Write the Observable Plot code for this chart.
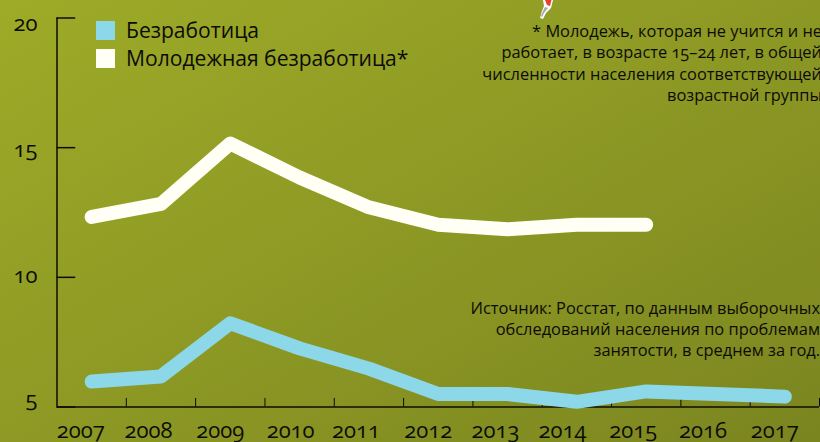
<!DOCTYPE html>
<html><head><meta charset="utf-8">
<script src="https://cdn.jsdelivr.net/npm/d3@7"></script>
<script src="https://cdn.jsdelivr.net/npm/@observablehq/plot@0.6"></script>
<style>
html,body{margin:0;padding:0;width:820px;height:442px;overflow:hidden;background:#8a9624}
#wrap{position:relative;width:820px;height:442px;overflow:hidden;font-family:"Open Sans",sans-serif;color:#0c0c06;font-feature-settings:"onum" 1;font-variant-numeric:oldstyle-nums}
#wrap svg.chart{display:block}
.sw{position:absolute;left:96px;width:19px;height:19px}
.lg{position:absolute;left:126px;font-size:21.1px;line-height:28px;white-space:nowrap}
.note{position:absolute;right:-2px;text-align:right;font-size:16.4px;line-height:21.3px;white-space:nowrap}
</style></head><body><div id="wrap"></div>
<script>
const years=[2007,2008,2009,2010,2011,2012,2013,2014,2015,2016,2017];
const unemployment=[5.98,6.18,8.23,7.26,6.48,5.5,5.5,5.2,5.6,5.5,5.4];
const youthYears=[2007,2008,2009,2010,2011,2012,2013,2014,2015];
const youth=[12.33,12.83,15.16,13.85,12.7,12.03,11.85,12.03,12.03];
const yTicks=[5,10,15,20];
const yearBounds=[2007.5,2008.5,2009.5,2010.5,2011.5,2012.5,2013.5,2014.5,2015.5,2016.5,2017.5];
const labelNudge=[-11,-12.5,-10,-9,-13,-10,-12,-14.5,-13,-12.5,-10];
const yLabelNudge=[-7,-1,2,5.5];
const cyan="#8cd8e8", cream="#fffff5", ink="#0c0c06";
const fam='"Open Sans",sans-serif';
const chart=Plot.plot({
  width:820,height:442,
  marginLeft:56.5,marginRight:1,marginTop:17.5,marginBottom:35.5,
  x:{type:"linear",domain:[2006.5,2017.5],axis:null},
  y:{domain:[5,20],axis:null},
  style:{background:"linear-gradient(150deg,#9dab28 0%,#8d9924 50%,#7b8520 100%)",fontFamily:fam},
  marks:[
    Plot.ruleX([2006.5],{y1:5,y2:20,stroke:ink,strokeWidth:1.5}),
    Plot.ruleY([5],{x1:2006.5,x2:2017.5,stroke:ink,strokeWidth:1.5}),
    Plot.ruleY(yTicks,{x1:2006.5,x2:2006.77,stroke:ink,strokeWidth:1.5}),
    Plot.ruleX(yearBounds,{y1:5,y2:5.33,stroke:ink,strokeWidth:1}),
    Plot.line(years.map((d,i)=>({x:d,y:unemployment[i]})),{x:"x",y:"y",stroke:cyan,strokeWidth:14,strokeLinecap:"round",strokeLinejoin:"round"}),
    Plot.line(youthYears.map((d,i)=>({x:d,y:youth[i]})),{x:"x",y:"y",stroke:cream,strokeWidth:14,strokeLinecap:"round",strokeLinejoin:"round"}),
    ...years.map((d,i)=>Plot.text([d],{x:d=>d,frameAnchor:"bottom",dy:24,dx:labelNudge[i],text:d=>String(d),fontSize:22,fill:ink,lineAnchor:"middle"})),
    ...yTicks.map((d,i)=>Plot.text([d],{y:d=>d,frameAnchor:"left",dx:-19.5,dy:yLabelNudge[i],text:d=>String(d),fontSize:22,fill:ink,textAnchor:"end"}))
  ]
});
chart.classList.add("chart");
const wrap=document.getElementById("wrap");
wrap.append(chart);
wrap.insertAdjacentHTML("beforeend",`
<div class="sw" style="top:21px;background:${cyan}"></div><div class="lg" style="top:16px">Безработица</div>
<div class="sw" style="top:49px;background:${cream}"></div><div class="lg" style="top:44px">Молодежная безработица*</div>
<div class="note" style="top:20px">* Молодежь, которая не учится и не<br>работает, в возрасте 15–24 лет, в общей<br>численности населения соответствующей<br>возрастной группы</div>
<div class="note" style="top:296.5px;right:0">Источник: Росстат, по данным выборочных<br>обследований населения по проблемам<br>занятости, в среднем за год.</div>
<svg style="position:absolute;left:538px;top:0" width="16" height="20" viewBox="0 0 16 20"><path d="M5 0L15 0L13 8L8 13L5 19L2 18L4 11L6 6Z" fill="#fff"/><path d="M7 0L13.500 0L12 6L9 5Z" fill="#e8402a"/><path d="M7 7L10 8L6 13L4 17L3 16L5 11Z" fill="#a8a8a8"/></svg>`);
</script></body></html>
